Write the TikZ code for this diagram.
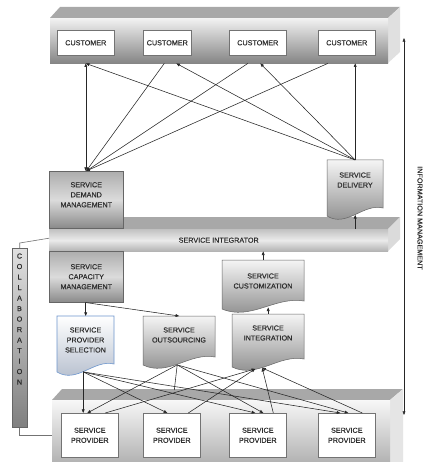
\documentclass[tikz,border=0pt]{standalone}
\usepackage{fontspec}
\setmainfont{Liberation Sans}[FakeBold=0.35]
\usetikzlibrary{arrows.meta,calc}
\definecolor{selfill}{RGB}{176,186,202}
\definecolor{selline}{RGB}{110,150,205}
\newcommand\docwave[5]{%
 \path[#5] (#1,#2) -- (#3,#2) -- (#3,{#4-11}) .. controls ({#1+0.65*(#3-#1)},{#4-16}) and ({#1+0.35*(#3-#1)},{#4+9}) .. (#1,{#4-3}) -- cycle;}
\begin{document}
\begin{tikzpicture}[x=1pt,y=-1pt,
 txt/.style={font=\fontsize{7.2}{10}\selectfont, text=black!82, align=center, inner sep=0},
 wbox/.style={txt, draw=black!55, fill=white, line width=0.6pt, anchor=north west, minimum width=57, minimum height=25},
 gbox/.style={txt, draw=black!60, line width=0.5pt, top color=black!32, bottom color=black!46, middle color=black!14, anchor=north west},
 bar/.style={inner sep=0, anchor=north west, draw=none},
 frame/.style={inner sep=0, anchor=north west, draw=none},
 doc/.style={draw=black!60, line width=0.5pt, top color=black!4, bottom color=black!48},
 seldoc/.style={draw=selline, line width=0.6pt, top color=white, bottom color=selfill},
 arr/.style={-{Triangle[length=3.6pt,width=2.8pt]}, line width=0.55pt, black!85},
 darr/.style={{Triangle[length=3.6pt,width=2.8pt]}-{Triangle[length=3.6pt,width=2.8pt]}, line width=0.55pt, black!85},
 ln/.style={line width=0.55pt, black!85},
 conn/.style={line width=0.6pt, black!55}]
\fill[white] (0,0) rectangle (427,462);
\useasboundingbox (0,0) rectangle (427,462);

% top bar
\fill[black!34] (50,18) -- (60,7) -- (400,7) -- (388,18) -- cycle;
\fill[black!12] (388,18) -- (400,7) -- (400,52) -- (388,63) -- cycle;
\node[bar, top color=black!5, bottom color=black!48, minimum width=338, minimum height=45] (topbar) at (50,18) {};
\node[wbox] (c1) at (57,30) {CUSTOMER};
\node[wbox, minimum width=48] (c2) at (143,30) {CUSTOMER};
\node[wbox] (c3) at (229,30) {CUSTOMER};
\node[wbox] (c4) at (318,30) {CUSTOMER};

% integrator bar
\fill[black!34] (49,229) -- (61,217) -- (400,217) -- (388,229) -- cycle;
\fill[black!14] (388,229) -- (400,217) -- (400,239) -- (388,251) -- cycle;
\node[bar, txt, top color=black!24, bottom color=black!30, middle color=black!8, minimum width=339, minimum height=22, anchor=north west] (integ) at (49,229) {SERVICE INTEGRATOR};

% provider bar
\fill[black!34] (52,400) -- (62,389) -- (403,389) -- (390,400) -- cycle;
\fill[black!10] (390,400) -- (403,389) -- (403,462) -- (390,462) -- cycle;
\node[bar, top color=black!3, bottom color=black!30, minimum width=338, minimum height=62] (pbar) at (52,400) {};
\node[wbox, minimum height=44] (p1) at (61,413) {SERVICE\\PROVIDER};
\node[wbox, minimum height=44] (p2) at (143,413) {SERVICE\\PROVIDER};
\node[wbox, minimum height=44] (p3) at (229,413) {SERVICE\\PROVIDER};
\node[wbox, minimum height=44] (p4) at (318,413) {SERVICE\\PROVIDER};

% management boxes
\node[gbox, minimum width=74, minimum height=57] (sdm) at (49,171) {SERVICE\\DEMAND\\MANAGEMENT\\[-3pt]\strut};
\node[gbox, minimum width=74, minimum height=51] (scm) at (49,251) {SERVICE\\CAPACITY\\MANAGEMENT};

% document shapes
\docwave{327}{160}{383}{219}{doc}
\node[frame, minimum width=56, minimum height=59] (sdel) at (327,160) {};
\node[txt] (sdelT) at (355,180) {SERVICE\\DELIVERY};

\docwave{222}{260}{304}{312}{doc}
\node[frame, minimum width=82, minimum height=52] (scust) at (222,260) {};
\node[txt] (scustT) at (263,281) {SERVICE\\CUSTOMIZATION};

\docwave{57}{316}{114}{375}{seldoc}
\node[frame, minimum width=57, minimum height=59] (sps) at (57,316) {};
\node[txt] (spsT) at (85.5,340) {SERVICE\\PROVIDER\\SELECTION};

\docwave{143}{316}{215}{368}{doc}
\node[frame, minimum width=72, minimum height=52] (sout) at (143,316) {};
\node[txt] (soutT) at (179,335) {SERVICE\\OUTSOURCING};

\docwave{232}{314}{304}{370}{doc}
\node[frame, minimum width=72, minimum height=56] (sint) at (232,314) {};
\node[txt] (sintT) at (268,333) {SERVICE\\INTEGRATION};

% collaboration
\node[bar, draw=black!60, line width=0.5pt, top color=black!12, bottom color=black!50, minimum width=15, minimum height=179] (collab) at (12,248) {};
\node[txt, font=\fontsize{7.2}{10.5}\selectfont] (collabT) at (19.5,319) {C\\O\\L\\L\\A\\B\\O\\R\\A\\T\\I\\O\\N};
\draw[conn] (collab.north) -- ++(0,-5) -- ($(integ.west)+(0,-2)$);
\draw[conn] (collab.south) -- ++(0,8) coordinate (cb) -- (cb -| pbar.west);

% top connectors
\draw[darr] (sdm.north -| c1.south) -- (c1.south |- topbar.south);
\draw[arr] ($(c2.south |- topbar.south)+(-3,0)$) -- (sdm.north);
\draw[arr] ($(c3.south |- topbar.south)+(-10,0)$) -- (sdm.north);
\draw[arr] ($(c4.south |- topbar.south)+(-19,0)$) -- (sdm.north);
\draw[arr] (sdel.north) -- (c1.south |- topbar.south);
\draw[arr] (sdel.north) -- ($(c2.south |- topbar.south)+(9,0)$);
\draw[arr] (sdel.north) -- ($(c3.south |- topbar.south)+(2.5,0)$);
\draw[arr] (sdel.north) -- (sdel.north |- topbar.south);
\draw[arr] (sdel.south |- integ.north) -- ($(sdel.south)+(0,-4.5)$);

% middle connectors
\draw[arr] (scust.north) -- (scust.north |- integ.south);
\draw[arr] (sint.north) -- ($(sint.north |- scust.south)+(0,-5)$);
\draw[arr] (scm.south -| sps.north) -- (sps.north);
\draw[arr] ($(scm.south)+(-1,0)$) -- (sout.north);

% bottom connectors
\coordinate (spsB) at ($(sps.south)+(-2.5,-3.5)$);
\coordinate (soutB) at ($(sout.south)+(-2,-3.5)$);
\coordinate (sintB1) at ($(sint.south)+(-13,-1.5)$);
\coordinate (sintB2) at ($(sint.south)+(-6,-2.5)$);
\draw[arr] (spsB) -- (spsB |- p1.north);
\draw[arr] (spsB) -- ($(p2.north)+(-4.5,0)$);
\draw[arr] (spsB) -- ($(p3.north)+(-2.5,0)$);
\draw[arr] (spsB) -- ($(p4.north)+(-6.5,0)$);
\draw[arr] (soutB) -- ($(p1.north)+(-2.5,0)$);
\draw[ln] (soutB) -- ($(p2.north)+(2.5,-23)$);
\draw[arr] (soutB) -- ($(p3.north)+(5.5,0)$);
\draw[arr] (soutB) -- ($(p4.north)+(1.5,0)$);
\draw[arr] ($(p1.north)+(15.5,0)$) -- (sintB1);
\draw[arr] ($(p2.north)+(16.5,0)$) -- (sintB1);
\draw[arr] ($(p3.north)+(15.5,0)$) -- (sintB2);
\draw[arr] ($(p4.north)+(15.5,0)$) -- (sintB2);

% information management
\coordinate (imT) at (404,38);
\coordinate (imB) at (404,415);
\draw[darr] (imB) -- (imT);
\node[txt, rotate=-90] (imL) at (420,218) {INFORMATION MANAGEMENT};
\end{tikzpicture}
\end{document}
